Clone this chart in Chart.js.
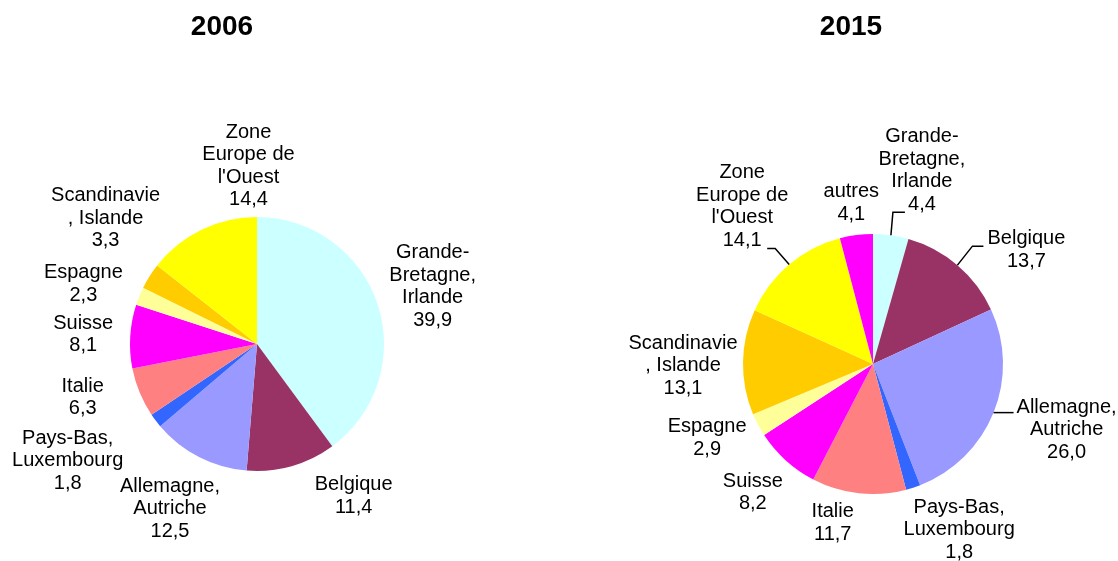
<!DOCTYPE html>
<html>
<head>
<meta charset="utf-8">
<script src="https://cdn.jsdelivr.net/npm/chart.js@4"></script>
<style>
    body { margin: 0; background: #fff; }
    .wrap { position: absolute; top: 0; width: 559px; height: 561px; }
    #left { left: 0; }
    #right { left: 559px; }
</style>
</head>
<body>
<div class="wrap" id="left"><canvas id="pie2006" width="559" height="561"></canvas></div>
<div class="wrap" id="right"><canvas id="pie2015" width="559" height="561"></canvas></div>
<script>
const categories2006 = ['Grande-\nBretagne,\nIrlande', 'Belgique', 'Allemagne,\nAutriche', 'Pays-Bas,\nLuxembourg',
    'Italie', 'Suisse', 'Espagne', 'Scandinavie\n, Islande', 'Zone\nEurope de\nl\'Ouest'];
const values2006 = [39.9, 11.4, 12.5, 1.8, 6.3, 8.1, 2.3, 3.3, 14.4];
const colors2006 = ['#CCFFFF', '#993366', '#9999FF', '#3366FF', '#FF8080', '#FF00FF', '#FFFF99', '#FFCC00', '#FFFF00'];

const categories2015 = ['Grande-\nBretagne,\nIrlande', 'Belgique', 'Allemagne,\nAutriche', 'Pays-Bas,\nLuxembourg',
    'Italie', 'Suisse', 'Espagne', 'Scandinavie\n, Islande', 'Zone\nEurope de\nl\'Ouest', 'autres'];
const values2015 = [4.4, 13.7, 26.0, 1.8, 11.7, 8.2, 2.9, 13.1, 14.1, 4.1];
const colors2015 = ['#CCFFFF', '#993366', '#9999FF', '#3366FF', '#FF8080', '#FF00FF', '#FFFF99', '#FFCC00', '#FFFF00', '#FF00FF'];

// label offsets from the arc edge (at mid angle)
const nudges2006 = [[55, -18], [62, 30], [-29, 52], [-88, 40], [-57, 5], [-47, -2], [-56, -12], [-44, -58], [47, -64]];
const nudges2015 = [[31, -65], [69, -15], [73, 17], [46, 42], [-26, 30], [-33, 32], [-51, 13], [-60, 4], [-47, -58], [-5, -32]];
// leader lines, points relative to the arc edge
const leaders2015 = [[[2, -23], [14, -23]], [[15, -19], [26, -19]], [[20, 0]], null, null, null, null, null, [[-14, -16], [-22, -16]], null];

const FONT = '"Liberation Sans", Arial, sans-serif';

function fmt(v) {
    return v.toFixed(1).replace('.', ',');
}

const pieLabels = {
    id: 'pieLabels',
    afterDatasetsDraw(chart, args, opts) {
        const ctx = chart.ctx;
        const arcs = chart.getDatasetMeta(0).data;
        const values = chart.data.datasets[0].data;
        ctx.save();

        // title
        ctx.fillStyle = '#000';
        ctx.font = 'bold 28px ' + FONT;
        ctx.textAlign = 'center';
        ctx.textBaseline = 'middle';
        ctx.fillText(opts.title, opts.titleX, 27);

        ctx.font = '20px ' + FONT;
        ctx.strokeStyle = '#000';
        ctx.lineWidth = 1.5;
        arcs.forEach((arc, i) => {
            const p = arc.getProps(['x', 'y', 'startAngle', 'endAngle', 'outerRadius'], true);
            const mid = (p.startAngle + p.endAngle) / 2;
            const ex = p.x + Math.cos(mid) * p.outerRadius;
            const ey = p.y + Math.sin(mid) * p.outerRadius;

            const lead = opts.leaders ? opts.leaders[i] : null;
            if (lead) {
                ctx.beginPath();
                ctx.moveTo(ex, ey);
                lead.forEach(pt => ctx.lineTo(ex + pt[0], ey + pt[1]));
                ctx.stroke();
            }

            const lines = chart.data.labels[i].split('\n').concat([fmt(values[i])]);
            const lh = 22.5;
            const cx = ex + opts.nudges[i][0];
            const cy = ey + opts.nudges[i][1];
            const y0 = cy - (lines.length - 1) / 2 * lh;
            lines.forEach((t, k) => ctx.fillText(t, cx, y0 + k * lh));
        });
        ctx.restore();
    }
};

function makePie(id, labels, values, colors, padding, plugOpts) {
    const ctx = document.getElementById(id).getContext('2d');
    return new Chart(ctx, {
        type: 'pie',
        data: {
            labels: labels,
            datasets: [{
                data: values,
                backgroundColor: colors,
                borderWidth: 0,
                hoverOffset: 0
            }]
        },
        options: {
            responsive: false,
            animation: false,
            events: [],
            layout: { padding: padding },
            plugins: {
                legend: { display: false },
                tooltip: { enabled: false },
                pieLabels: plugOpts
            }
        },
        plugins: [pieLabels]
    });
}

makePie('pie2006', categories2006, values2006, colors2006,
    { left: 130, right: 175, top: 217, bottom: 90 },
    { title: '2006', titleX: 222, nudges: nudges2006, leaders: null });

makePie('pie2015', categories2015, values2015, colors2015,
    { left: 184, right: 115, top: 234, bottom: 67 },
    { title: '2015', titleX: 292, nudges: nudges2015, leaders: leaders2015 });
</script>
</body>
</html>
